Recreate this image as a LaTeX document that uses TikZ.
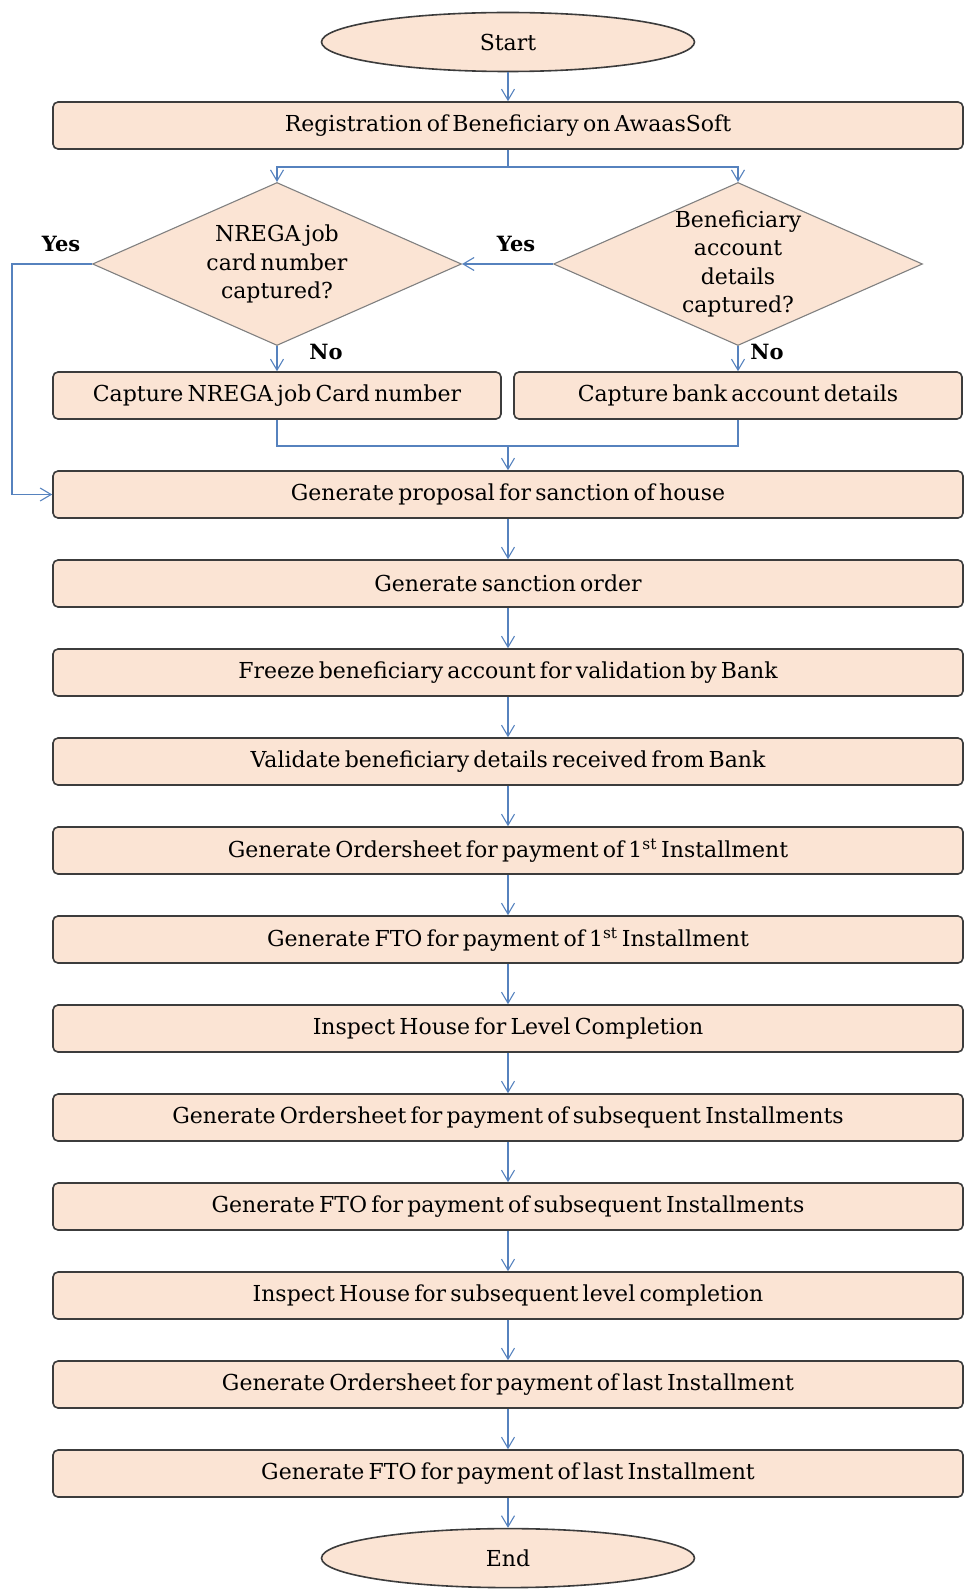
\documentclass[tikz,border=0pt]{standalone}
\usepackage{fontspec}
\setmainfont[WordSpace=0.6]{DejaVu Serif}
\usetikzlibrary{positioning,shapes.geometric,arrows.meta}
\definecolor{boxfill}{RGB}{251,228,212}
\definecolor{boxline}{RGB}{60,60,60}
\definecolor{diaLine}{RGB}{128,128,128}
\definecolor{linkblue}{RGB}{86,130,190}

\begin{document}
\begin{tikzpicture}[x=1pt,y=1pt,
        font=\fontsize{22}{28.5}\selectfont,
        stepbox/.style={draw=boxline, line width=1.6pt, fill=boxfill, rounded corners=5pt,
            minimum width=910pt, minimum height=47pt, inner sep=0pt},
        halfbox/.style={stepbox, minimum width=448pt},
        term/.style={draw=boxline, line width=1.6pt, fill=boxfill, ellipse,
            minimum width=373pt, minimum height=59pt},
        decision/.style={draw=diaLine, line width=1.1pt, fill=boxfill, diamond, aspect=2.25,
            inner sep=-8pt, minimum width=369pt, minimum height=163pt, align=center},
        link/.style={draw=linkblue, line width=1.3pt,
            -{Straight Barb[length=11pt,width=13pt,line width=1.1pt]}},
        flow/.style={draw=linkblue, line width=1.3pt},
        tag/.style={font=\fontsize{21}{24}\selectfont\bfseries},
        node distance=40.4pt]
    \useasboundingbox (0,0) rectangle (964,-1589);

    \node[term] (s) at (508,-42) {Start};
    \node[stepbox] (r) at (508,-125.5) {Registration of Beneficiary on AwaasSoft};
    \node[decision] (d1) at (277,-264) {NREGA job\\card number\\captured?};
    \node[decision] (d2) at (738,-264) {Beneficiary\\account\\details\\captured?};
    \node[halfbox] (c1) at (277,-395.5) {Capture NREGA job Card number};
    \node[halfbox] (c2) at (738,-395.5) {Capture bank account details};

    \node[stepbox] (p1) at (508,-494.5) {Generate proposal for sanction of house};
    \node[stepbox, below=of p1] (p2) {Generate sanction order};
    \node[stepbox, below=of p2] (p3) {Freeze beneficiary account for validation by Bank};
    \node[stepbox, below=of p3] (p4) {Validate beneficiary details received from Bank};
    \node[stepbox, below=of p4] (p5) {Generate Ordersheet for payment of 1\textsuperscript{st} Installment};
    \node[stepbox, below=of p5] (p6) {Generate FTO for payment of 1\textsuperscript{st} Installment};
    \node[stepbox, below=of p6] (p7) {Inspect House for Level Completion};
    \node[stepbox, below=of p7] (p8) {Generate Ordersheet for payment of subsequent Installments};
    \node[stepbox, below=of p8] (p9) {Generate FTO for payment of subsequent Installments};
    \node[stepbox, below=of p9] (p10) {Inspect House for subsequent level completion};
    \node[stepbox, below=of p10] (p11) {Generate Ordersheet for payment of last Installment};
    \node[stepbox, below=of p11] (p12) {Generate FTO for payment of last Installment};
    \node[term, below=30pt of p12] (e) {End};

    \node[tag] (y1) at (61,-244) {Yes};
    \node[tag] (y2) at (516,-244) {Yes};
    \node[tag] (n1) at (326,-352) {No};
    \node[tag] (n2) at (767,-352) {No};

    \coordinate (br) at (508,-167);
    \coordinate (yl) at (12,-264);
    \coordinate (mg) at (508,-446);

    \draw[link] (s) -- (r);
    \draw[flow] (r) -- (br);
    \draw[link] (br) -| (d1.north);
    \draw[link] (br) -| (d2.north);
    \draw[link] (d2.west) -- (d1.east);
    \draw[link] (d1.west) -- (yl) |- (p1.west);
    \draw[link] (d1) -- (c1);
    \draw[link] (d2) -- (c2);
    \draw[flow] (c1.south) |- (mg);
    \draw[flow] (c2.south) |- (mg);
    \draw[link] (mg) -- (p1);
    \draw[link] (p1) -- (p2);
    \draw[link] (p2) -- (p3);
    \draw[link] (p3) -- (p4);
    \draw[link] (p4) -- (p5);
    \draw[link] (p5) -- (p6);
    \draw[link] (p6) -- (p7);
    \draw[link] (p7) -- (p8);
    \draw[link] (p8) -- (p9);
    \draw[link] (p9) -- (p10);
    \draw[link] (p10) -- (p11);
    \draw[link] (p11) -- (p12);
    \draw[link] (p12) -- (e);
\end{tikzpicture}
\end{document}
